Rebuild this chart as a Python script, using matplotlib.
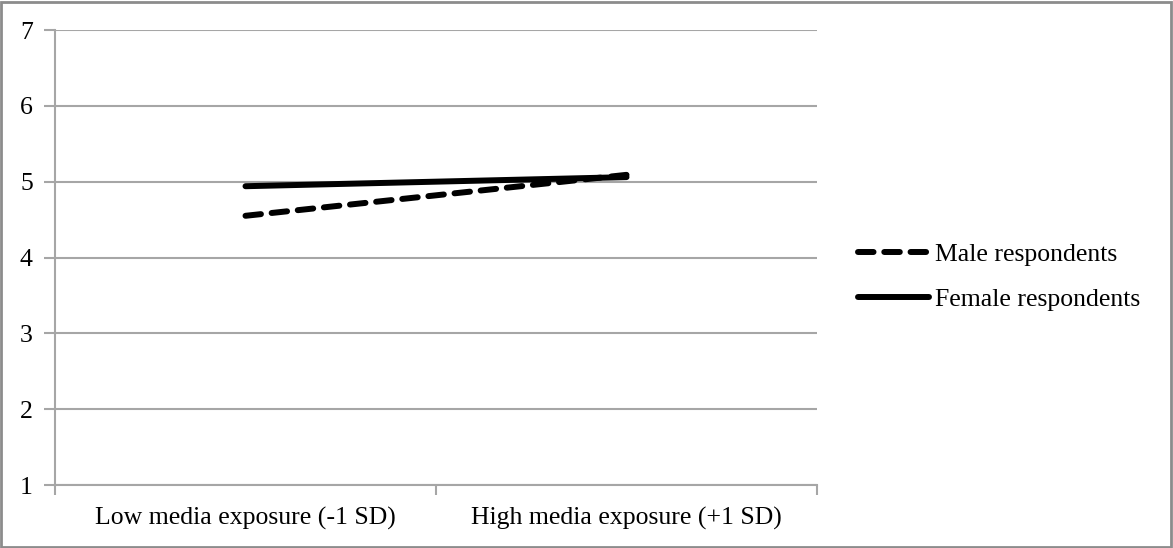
import matplotlib.pyplot as plt
from matplotlib.patches import Rectangle

categories = ["Low media exposure (-1 SD)", "High media exposure (+1 SD)"]
male = [4.55, 5.09]
female = [4.94, 5.06]
y_ticks = [1, 2, 3, 4, 5, 6, 7]

plt.rcParams["font.family"] = ["Liberation Serif", "DejaVu Serif"]
FS = 18.5

fig = plt.figure(figsize=(11.73, 5.48), dpi=100)
ax = fig.add_axes([55 / 1173, 63 / 548, 762 / 1173, 455 / 548])

x = [0, 1]
ax.plot(x, male, color="black", linewidth=4.3, linestyle=(0, (2.6, 1.8)),
        dash_capstyle="round", label="Male respondents")
ax.plot(x, female, color="black", linewidth=4.3, solid_capstyle="round",
        label="Female respondents")

ax.set_xlim(-0.5, 1.5)
ax.set_ylim(1, 7)
ax.set_yticks(y_ticks)
ax.yaxis.grid(True, color="#a6a6a6", linewidth=1.5)
ax.set_axisbelow(True)

# category boundaries as major ticks, labels on minor ticks
ax.set_xticks([-0.5, 0.5, 1.5])
ax.set_xticklabels([])
ax.set_xticks(x, minor=True)
ax.set_xticklabels(categories, minor=True)
ax.tick_params(axis="x", which="minor", length=0, pad=16, labelsize=FS)
ax.tick_params(axis="x", which="major", length=7, width=1.5, color="#a6a6a6")
ax.tick_params(axis="y", length=8, width=1.5, color="#a6a6a6", labelsize=FS, pad=8)

for side in ["top", "right"]:
    ax.spines[side].set_visible(False)
for side in ["left", "bottom"]:
    ax.spines[side].set_color("#a6a6a6")
    ax.spines[side].set_linewidth(1.5)

leg = fig.legend(loc="upper left", bbox_to_anchor=(835 / 1173, 1 - 220 / 548), frameon=False,
                 fontsize=FS, handlelength=2.75, handletextpad=0.25, labelspacing=0.85)

fig.patches.append(Rectangle((0.001, 0.002), 0.997, 0.995, transform=fig.transFigure,
                             fill=False, edgecolor="#8c8c8c", linewidth=2))

fig.savefig("out.png", dpi=100)
